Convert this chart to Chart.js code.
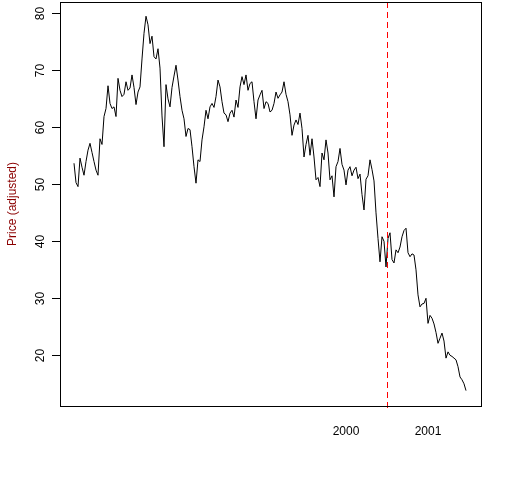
<!DOCTYPE html>
<html><head><meta charset="utf-8">
<script src="https://cdn.jsdelivr.net/npm/chart.js@4"></script>
<style>html,body{margin:0;padding:0;background:#fff;overflow:hidden;}</style>
</head><body>
<canvas id="c" width="512" height="480" style="display:block;width:512px;height:480px"></canvas>
<script>
// weekly adjusted prices
const prices = [
53.7,50.3,49.6,54.6,53.0,51.6,54.0,56.0,57.2,55.6,
54.0,52.5,51.6,58.0,57.0,61.9,63.3,67.3,64.2,63.3,
63.6,61.9,68.6,66.5,65.4,65.8,68.0,66.5,66.9,69.2,
67.0,64.0,66.2,67.1,72.0,76.5,79.5,78.0,74.7,76.0,
72.4,72.0,73.8,70.4,62.0,56.6,67.5,65.0,63.6,67.0,
69.0,70.9,68.3,65.4,63.0,61.5,58.4,59.8,59.6,56.6,
53.1,50.2,54.3,54.0,57.8,60.1,63.0,61.5,63.6,64.2,
63.5,65.4,68.3,67.1,64.5,62.5,62.2,61.0,62.5,63.0,
61.8,64.8,63.5,67.1,68.9,67.5,69.2,66.5,67.7,68.0,
64.5,61.5,64.8,65.7,66.5,63.3,64.5,64.2,62.7,63.0,
64.2,66.2,65.1,65.7,66.2,68.0,65.8,64.5,62.2,58.6,
60.4,61.3,60.5,62.5,59.8,54.8,57.0,58.6,55.1,58.0,
54.8,50.8,51.2,49.6,55.5,54.3,57.8,55.5,50.8,51.5,
47.8,53.1,54.0,56.3,53.5,52.5,49.9,52.5,53.1,51.5,
52.5,53.0,51.0,51.8,48.2,45.5,50.9,51.5,54.3,52.6,
50.6,45.0,40.5,36.4,40.8,40.0,35.5,40.5,41.5,36.8,
36.2,38.5,38.0,39.0,40.8,41.9,42.3,38.0,37.3,37.8,
37.6,35.0,30.6,28.5,29.0,29.1,30.0,25.6,27.0,26.5,
25.5,24.0,22.1,23.0,23.9,22.5,19.5,20.6,20.0,19.8,
19.5,19.2,18.0,16.2,15.7,15.0,13.8
];
const yTicks = [20, 30, 40, 50, 60, 70, 80];
const xTickPositions = [136, 177];
const xTickLabels = ['2000', '2001'];
const eventPosition = 156.5;
const yTitle = 'Price (adjusted)';

const FONT = '"Liberation Sans", Arial, sans-serif';

const framePlugin = {
  id: 'frame',
  afterDraw(chart) {
    const ctx = chart.ctx, a = chart.chartArea;
    const ys = chart.scales.y, xs = chart.scales.x;
    ctx.save();
    // event line
    const ex = Math.round(xs.getPixelForValue(eventPosition)) + 0.5;
    ctx.strokeStyle = '#ff0000';
    ctx.lineWidth = 1;
    ctx.setLineDash([6, 4]);
    ctx.beginPath();
    ctx.moveTo(ex, a.top);
    ctx.lineTo(ex, a.bottom + 5);
    ctx.stroke();
    ctx.setLineDash([]);
    // frame
    ctx.strokeStyle = '#000';
    ctx.strokeRect(Math.round(a.left) + 0.5, Math.round(a.top) + 0.5,
                   Math.round(a.right - a.left), Math.round(a.bottom - a.top));
    // y ticks and rotated labels
    ctx.fillStyle = '#000';
    ctx.font = '12px ' + FONT;
    ctx.textAlign = 'center';
    ctx.textBaseline = 'middle';
    yTicks.forEach(v => {
      const y = Math.round(ys.getPixelForValue(v)) + 0.5;
      ctx.beginPath();
      ctx.moveTo(a.left - 8, y);
      ctx.lineTo(a.left, y);
      ctx.stroke();
      ctx.save();
      ctx.translate(41, y);
      ctx.rotate(-Math.PI / 2);
      ctx.fillText(String(v), 0, 0);
      ctx.restore();
    });
    ctx.restore();
  }
};

new Chart(document.getElementById('c'), {
  type: 'line',
  data: {
    datasets: [{
      data: prices.map((v, i) => ({ x: i, y: v })),
      borderColor: '#000',
      borderWidth: 1,
      pointRadius: 0,
      tension: 0,
      fill: false
    }]
  },
  options: {
    responsive: false,
    animation: false,
    devicePixelRatio: 1,
    layout: { padding: { left: 0, top: 2, right: 31, bottom: 0 } },
    plugins: { legend: { display: false }, tooltip: { enabled: false } },
    scales: {
      x: {
        type: 'linear',
        min: -7, max: 203.5,
        grid: { display: false, drawTicks: false },
        border: { display: false },
        afterBuildTicks(scale) {
          scale.ticks = xTickPositions.map(v => ({ value: v }));
        },
        afterFit(scale) { scale.height = 74; },
        ticks: {
          autoSkip: false,
          maxRotation: 0, minRotation: 0,
          padding: 18,
          color: '#000',
          font: { size: 12, family: FONT },
          callback(value) {
            const k = xTickPositions.indexOf(value);
            return k >= 0 ? xTickLabels[k] : '';
          }
        }
      },
      y: {
        type: 'linear',
        min: 11.1, max: 82.0,
        grid: { display: false, drawTicks: false },
        border: { display: false },
        ticks: { display: false },
        afterFit(scale) { scale.width = 60; },
        title: {
          display: true,
          text: yTitle,
          color: '#8b0000',
          font: { size: 12, family: FONT },
          padding: { top: 5, bottom: 0 }
        }
      }
    }
  },
  plugins: [framePlugin]
});
</script>
</body></html>
